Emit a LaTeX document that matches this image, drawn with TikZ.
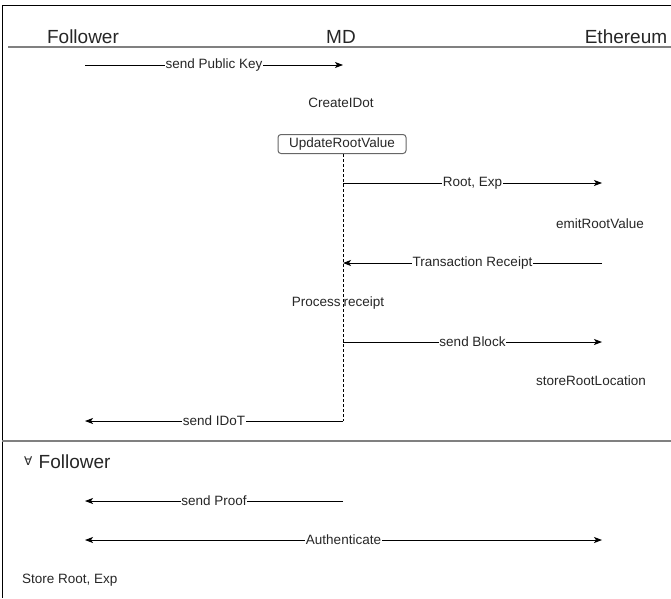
\documentclass[tikz,border=0pt]{standalone}
\usepackage{fontspec}
\setmainfont{Liberation Sans}
\newfontfamily\symfont{DejaVu Sans}
\usetikzlibrary{arrows.meta}
\begin{document}
\begin{tikzpicture}[x=1pt,y={(0,-1pt)},
  msg/.style={draw=black,line width=0.8pt,-{Stealth[length=8pt,width=6pt,inset=2pt]}},
  dmsg/.style={draw=black,line width=0.8pt,{Stealth[length=8pt,width=6pt,inset=2pt]}-{Stealth[length=8pt,width=6pt,inset=2pt]}},
  lbl/.style={fill=white,inner sep=0.5pt,font=\fontsize{13.5}{15}\selectfont,text=black!85},
  txt/.style={inner sep=0pt,font=\fontsize{13.5}{15}\selectfont,text=black!85},
  head/.style={inner sep=0pt,font=\fontsize{19}{22}\selectfont,text=black!85},
  rule/.style={draw=black!50,line width=1.6pt},
  frame/.style={draw=black,line width=1pt},
  actbox/.style={draw=black!60,line width=1pt,rounded corners=3pt,minimum width=128pt,minimum height=19pt,inner sep=0pt,font=\fontsize{13.5}{15}\selectfont,text=black!85},
  life/.style={draw=black,line width=0.8pt,dash pattern=on 3pt off 2pt}]
\useasboundingbox (0,0) rectangle (671,598);
% frame
\coordinate (tl) at (2,5);
\coordinate (tr) at (671,5);
\coordinate (bl) at (2,598);
\draw[frame] (tr) -- (tl) -- (bl);
% header
\node[head] (hF) at (83,37) {Follower};
\node[head] (hM) at (341,37) {MD};
\node[head] (hE) at (626,37) {Ethereum};
\coordinate (hl1) at (8,47);
\coordinate (hl2) at (671,47);
\draw[rule] (hl1) -- (hl2);
% endpoints
\coordinate (f1) at (85,65);  \coordinate (m1) at (343,65);
\node[txt] (create) at (341,103) {CreateIDot};
\node[actbox] (upd) at (342,144) {UpdateRootValue};
\coordinate (m2) at (343,183); \coordinate (e2) at (602,183);
\node[txt] (emit) at (600,224) {emitRootValue};
\coordinate (e3) at (602,263); \coordinate (m3) at (343,263);
\coordinate (m4) at (343,342); \coordinate (e4) at (602,342);
\node[txt] (store) at (591,381) {storeRootLocation};
\coordinate (m5) at (343,421); \coordinate (f5) at (85,421);
% lifeline
\draw[life] (upd.south -| m5) -- (m5);
\node[txt] (proc) at (338,303) {Process\hspace{3pt}receipt};
% messages
\draw[msg] (f1) -- node[lbl] {send Public Key} (m1);
\draw[msg] (m2) -- node[lbl] {Root, Exp} (e2);
\draw[msg] (e3) -- node[lbl] {Transaction Receipt} (m3);
\draw[msg] (m4) -- node[lbl] {send Block} (e4);
\draw[msg] (m5) -- node[lbl] {send IDoT} (f5);
% separator
\coordinate (s1) at (2,441);
\coordinate (s2) at (671,441);
\draw[rule] (s1) -- (s2);
\node[head,anchor=west] (all) at (24,462) {\raisebox{3pt}{\symfont\fontsize{12}{13}\selectfont ∀}\hspace{1pt} Follower};
\coordinate (m6) at (343,501); \coordinate (f6) at (85,501);
\draw[msg] (m6) -- node[lbl] {send Proof} (f6);
\coordinate (f7) at (85,540); \coordinate (e7) at (602,540);
\draw[dmsg] (f7) -- node[lbl] {Authenticate} (e7);
\node[txt,anchor=west] (sr) at (22,580) {Store Root, Exp};
\end{tikzpicture}
\end{document}
